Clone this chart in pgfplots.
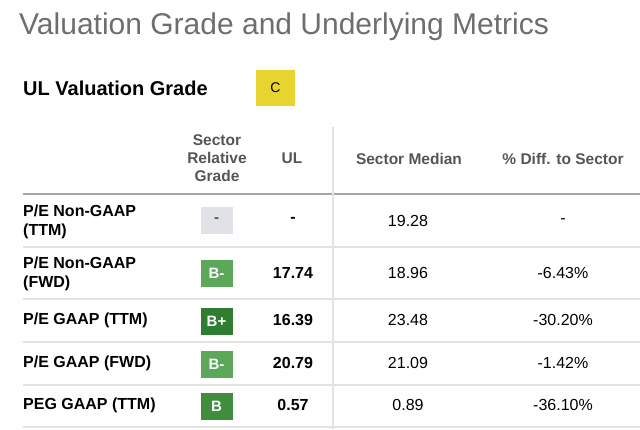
\documentclass[border=0pt]{standalone}
\usepackage{pgfplots}
\pgfplotsset{compat=1.18}
\usepackage{fontspec}
\setmainfont{Liberation Sans}
\definecolor{titlegray}{HTML}{6E6E6E}
\definecolor{headgray}{HTML}{555555}
\definecolor{gradeC}{HTML}{E8D42E}
\definecolor{gradeBm}{HTML}{5CA85A}
\definecolor{gradeBp}{HTML}{2F7D32}
\definecolor{gradeB}{HTML}{3E8E3E}
\definecolor{gradeNA}{HTML}{E1E2E6}
\definecolor{rule}{HTML}{E3E3E3}
\definecolor{rulehead}{HTML}{A3A8A8}
\newcommand{\fs}[1]{\fontsize{#1bp}{#1bp}\selectfont}
\begin{document}
\begin{tikzpicture}
\begin{axis}[
  name=ax,
  width=640bp, height=429bp, scale only axis,
  xmin=0, xmax=640, ymin=0, ymax=429, y dir=reverse,
  hide axis, clip=false,
]
% table rules
\addplot[draw=rulehead, line width=2bp] coordinates {(23,194) (640,194)};
\addplot[draw=rule, line width=1.5bp] coordinates {(23,247) (640,247)};
\addplot[draw=rule, line width=1.5bp] coordinates {(23,299) (640,299)};
\addplot[draw=rule, line width=1.5bp] coordinates {(23,342) (640,342)};
\addplot[draw=rule, line width=1.5bp] coordinates {(23,385) (640,385)};
\addplot[draw=rule, line width=1.5bp] coordinates {(23,427) (640,427)};
\addplot[draw=rule, line width=1.5bp] coordinates {(333,127) (333,429)};

% grade badges
\addplot[only marks, mark=square*, mark size=19bp, color=gradeC, mark options={fill=gradeC, draw=gradeC, yscale=0.93}] coordinates {(275.5,88)};
\addplot[only marks, mark=square*, mark size=15.5bp, color=gradeNA, mark options={fill=gradeNA, draw=gradeNA, yscale=0.84}] coordinates {(216.5,220.5)};
\addplot[only marks, mark=square*, mark size=15.5bp, color=gradeBm, mark options={fill=gradeBm, draw=gradeBm, yscale=0.84}] coordinates {(216.5,273) (216.5,364)};
\addplot[only marks, mark=square*, mark size=15.5bp, color=gradeBp, mark options={fill=gradeBp, draw=gradeBp, yscale=0.84}] coordinates {(216.5,321)};
\addplot[only marks, mark=square*, mark size=15.5bp, color=gradeB, mark options={fill=gradeB, draw=gradeB, yscale=0.84}] coordinates {(216.5,406)};

% badge letters
\addplot[draw=none, mark=none, point meta=explicit symbolic, nodes near coords,
  nodes near coords style={anchor=center, text=black, font=\fs{14}}]
  coordinates {(275.5,88) [C]};
\addplot[draw=none, mark=none, point meta=explicit symbolic, nodes near coords,
  nodes near coords style={anchor=center, text=headgray, font=\bfseries\fs{15}}]
  coordinates {(216.5,220) [-]};
\addplot[draw=none, mark=none, point meta=explicit symbolic, nodes near coords,
  nodes near coords style={anchor=center, text=white, font=\bfseries\fs{15}}]
  coordinates {(216.5,273) [B-] (216.5,321) [B+] (216.5,364) [B-] (216.5,406) [B]};

% UL values
\addplot[draw=none, mark=none, point meta=explicit symbolic, nodes near coords,
  nodes near coords style={anchor=center, text=black, font=\bfseries\fs{16}}]
  coordinates {(293,220) [-] (293,273) [17.74] (293,320) [16.39] (293,363) [20.79] (293,405) [0.57]};
% Sector median
\addplot[draw=none, mark=none, point meta=explicit symbolic, nodes near coords,
  nodes near coords style={anchor=center, text=black, font=\fs{16}}]
  coordinates {(408,221) [19.28] (408,273) [18.96] (408,320) [23.48] (408,363) [21.09] (408,405) [0.89]};
% % diff
\addplot[draw=none, mark=none, point meta=explicit symbolic, nodes near coords,
  nodes near coords style={anchor=center, text=black, font=\fs{16}}]
  coordinates {(563,221) [-] (563,273) [-6.43\%] (563,320) [-30.20\%] (563,363) [-1.42\%] (563,405) [-36.10\%]};

% titles and headers
\node[anchor=west, text=titlegray, font=\fs{30}, inner sep=0pt] at (axis cs:19,27) {Valuation Grade and Underlying Metrics};
\node[anchor=west, text=black, font=\bfseries\fs{20}, inner sep=0pt] at (axis cs:23,88) {UL Valuation Grade};
\node[anchor=center, align=center, text=headgray, font=\bfseries\fs{15.5}, inner sep=0pt] at (axis cs:217,158.5) {Sector\\[2.5bp]Relative\\[2.5bp]Grade};
\node[anchor=center, text=headgray, font=\bfseries\fs{15.5}, inner sep=0pt] at (axis cs:292,158.5) {UL};
\node[anchor=center, text=headgray, font=\bfseries\fs{15.5}, inner sep=0pt] at (axis cs:409,158.5) {Sector Median};
\node[anchor=center, text=headgray, font=\bfseries\fs{15.5}, inner sep=0pt] at (axis cs:563,158.5) {\% Diff. to Sector};

% row labels
\node[anchor=west, align=left, text=black, font=\bfseries\fs{16}, inner sep=0pt] at (axis cs:23,222) {P/E Non-GAAP\\[2.5bp](TTM)};
\node[anchor=west, align=left, text=black, font=\bfseries\fs{16}, inner sep=0pt] at (axis cs:23,274) {P/E Non-GAAP\\[2.5bp](FWD)};
\node[anchor=west, text=black, font=\bfseries\fs{16}, inner sep=0pt] at (axis cs:23,320) {P/E GAAP (TTM)};
\node[anchor=west, text=black, font=\bfseries\fs{16}, inner sep=0pt] at (axis cs:23,363) {P/E GAAP (FWD)};
\node[anchor=west, text=black, font=\bfseries\fs{16}, inner sep=0pt] at (axis cs:23,405) {PEG GAAP (TTM)};
\end{axis}
\pgfresetboundingbox
\path (ax.south west) rectangle (ax.north east);
\end{tikzpicture}
\end{document}
